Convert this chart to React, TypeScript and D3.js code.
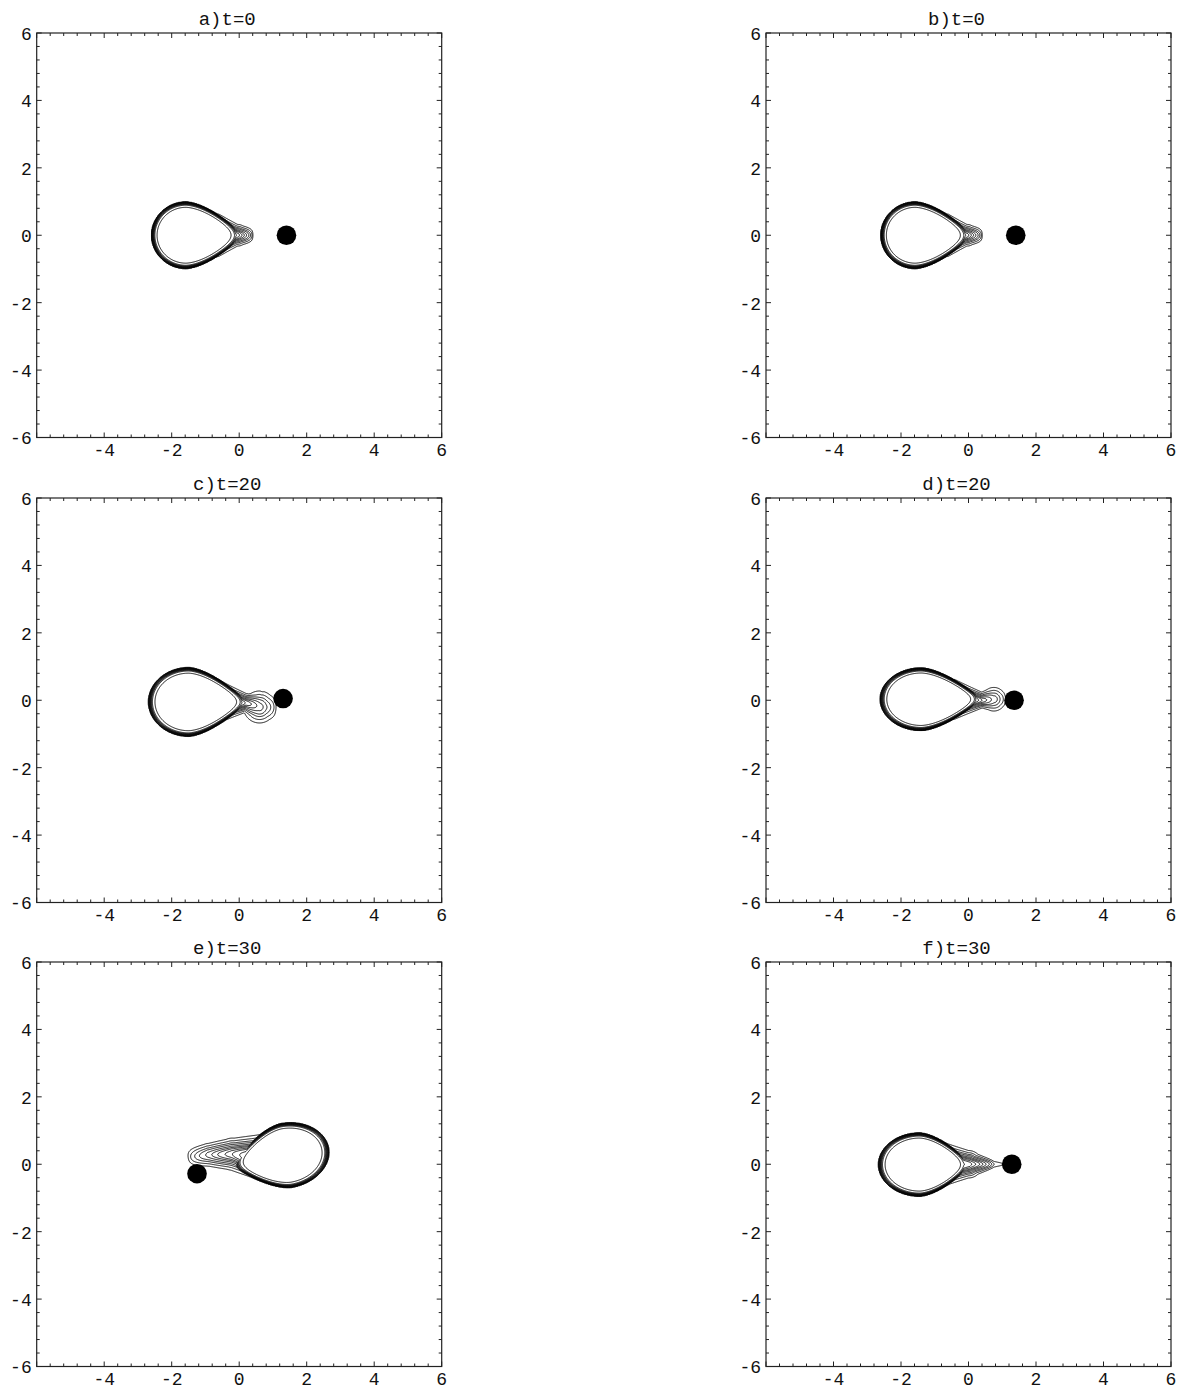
import React, { useEffect, useRef } from 'react';
import * as d3 from 'd3';

// panel titles, in reading order (left/right, top to bottom)
const titles = ['a)t=0', 'b)t=0', 'c)t=20', 'd)t=20', 'e)t=30', 'f)t=30'];

// companion position (the black dot)
const companion = [[1.4, 0], [1.4, 0], [1.3, 0.05], [1.35, 0], [-1.25, -0.28], [1.28, 0]];

// primary star: centre, [back, front, half height, taper], axis angle (deg)
const bodyCenter = [[-1.58, 0], [-1.58, 0], [-1.5, -0.05], [-1.4, 0.03], [1.4, 0.26], [-1.45, -0.01]];
const bodyShape = [
  [1.02, 1.6, 0.99, 0.5],
  [1.02, 1.6, 0.99, 0.5],
  [1.19, 1.7, 1.02, 0.6],
  [1.22, 1.75, 0.93, 0.6],
  [1.27, 1.55, 0.96, 0.5],
  [1.22, 1.45, 0.94, 0.5],
];
const bodyAngle = [0, 0, 0, 0, 190, 0];

// tidal stream: spine points [x, y, width, level]
const tails = [
  [[-0.6, 0, 0.3, 0.3], [-0.05, 0, 0.17, 0.14], [0.42, 0, 0.13, 0]],
  [[-0.6, 0, 0.3, 0.3], [-0.05, 0, 0.17, 0.14], [0.42, 0, 0.13, 0]],
  [[-0.5, -0.05, 0.28, 0.3], [0.2, -0.08, 0.15, 0.12], [0.6, -0.2, 0.28, 0.07], [1.12, -0.22, 0.24, 0]],
  [[-0.4, 0.02, 0.28, 0.3], [0.4, 0, 0.13, 0.1], [0.75, 0.03, 0.22, 0.05], [1.12, 0.04, 0.2, 0]],
  [[0.6, 0.22, 0.32, 0.3], [-0.2, 0.3, 0.25, 0.15], [-0.9, 0.28, 0.2, 0.07], [-1.55, 0.2, 0.18, 0]],
  [[-0.8, 0, 0.32, 0.3], [0, 0, 0.21, 0.17], [0.75, 0, 0.08, 0.012], [1.2, 0, 0.03, 0]],
];

// contour levels
const levels = [0.004, 0.012, 0.025, 0.04, 0.06, 0.08, 0.1, 0.125, 0.15, 0.19, 0.3];

const xTickLabels = [-4, -2, 0, 2, 4, 6];
const yTickLabels = [-6, -4, -2, 0, 2, 4, 6];

const W = 1178;
const H = 1391;
const colLeft = [36.7, 766];
const rowTop = [33, 498, 962];
const PW = 405;
const PH = 404.5;
const STEP = 0.02;
const G0 = -4;
const G1 = 4;
const FONT = "'Liberation Mono', 'Courier New', monospace";

function bodyField(i: number, x: number, y: number) {
  const [cx, cy] = bodyCenter[i];
  const [back, front, ay, taper] = bodyShape[i];
  const a = (bodyAngle[i] * Math.PI) / 180;
  const dx = x - cx, dy = y - cy;
  const u = dx * Math.cos(a) + dy * Math.sin(a);
  const v = -dx * Math.sin(a) + dy * Math.cos(a);
  let t, h;
  if (u > 0) {
    t = u / front;
    h = ay * (1 - taper * Math.pow(Math.min(1, t), 1.5));
  } else {
    t = u / back;
    h = ay;
  }
  return 1 - (t * t + (v / h) * (v / h));
}

function tailField(i: number, x: number, y: number) {
  const pts = tails[i];
  let best = 0;
  for (let k = 0; k < pts.length - 1; k++) {
    const [x0, y0, w0, a0] = pts[k];
    const [x1, y1, w1, a1] = pts[k + 1];
    const ex = x1 - x0, ey = y1 - y0;
    const len2 = ex * ex + ey * ey;
    let s = ((x - x0) * ex + (y - y0) * ey) / len2;
    s = Math.max(0, Math.min(1, s));
    const px = x0 + s * ex, py = y0 + s * ey;
    const d2 = (x - px) * (x - px) + (y - py) * (y - py);
    const w = w0 + s * (w1 - w0);
    const amp = a0 + s * (a1 - a0);
    const val = amp * Math.exp(-d2 / (w * w));
    if (val > best) best = val;
  }
  return best;
}

function field(i: number, x: number, y: number) {
  const fb = bodyField(i, x, y);
  const ft = tailField(i, x, y);
  const e = 0.006;
  return 0.5 * (fb + ft + Math.sqrt((fb - ft) * (fb - ft) + e * e));
}

export default function App() {
  const ref = useRef<SVGSVGElement>(null);

  useEffect(() => {
    const svg = d3.select(ref.current);
    svg.selectAll('*').remove();
    const n = Math.round((G1 - G0) / STEP) + 1;

    titles.forEach((title, i) => {
      const left = colLeft[i % 2];
      const top = rowTop[Math.floor(i / 2)];
      const sx = d3.scaleLinear().domain([-6, 6]).range([left, left + PW]);
      const sy = d3.scaleLinear().domain([-6, 6]).range([top + PH, top]);
      const g = svg.append('g');

      // density field on a grid, then contours
      const values: number[] = new Array(n * n);
      for (let j = 0; j < n; j++) {
        const y = G0 + j * STEP;
        for (let k = 0; k < n; k++) {
          values[j * n + k] = field(i, G0 + k * STEP, y);
        }
      }
      const cs = d3.contours().size([n, n]).thresholds(levels)(values);
      const proj = d3.geoTransform({
        point(px: number, py: number) {
          this.stream.point(sx(G0 + (px - 0.5) * STEP), sy(G0 + (py - 0.5) * STEP));
        },
      });
      const path = d3.geoPath(proj);
      g.selectAll('path.contour')
        .data(cs)
        .join('path')
        .attr('class', 'contour')
        .attr('d', (d: any) => path(d))
        .attr('fill', 'none')
        .attr('stroke', '#000')
        .attr('stroke-width', 0.9);

      // companion
      g.append('circle')
        .attr('cx', sx(companion[i][0]))
        .attr('cy', sy(companion[i][1]))
        .attr('r', 9.8)
        .attr('fill', '#000');

      // frame
      g.append('rect')
        .attr('x', left)
        .attr('y', top)
        .attr('width', PW)
        .attr('height', PH)
        .attr('fill', 'none')
        .attr('stroke', '#222')
        .attr('stroke-width', 1.2);

      // ticks on all four sides, pointing in
      const minor = d3.range(-6, 6.001, 0.4);
      const major = d3.range(-6, 6.001, 2);
      const tickLines: [number, number, number, number][] = [];
      minor.forEach((v) => {
        const isMajor = major.some((m) => Math.abs(m - v) < 1e-6);
        const len = isMajor ? 5 : 3;
        tickLines.push([sx(v), top + PH, sx(v), top + PH - len]);
        tickLines.push([sx(v), top, sx(v), top + len]);
        tickLines.push([left, sy(v), left + len, sy(v)]);
        tickLines.push([left + PW, sy(v), left + PW - len, sy(v)]);
      });
      g.selectAll('line.tick')
        .data(tickLines)
        .join('line')
        .attr('class', 'tick')
        .attr('x1', (d) => d[0])
        .attr('y1', (d) => d[1])
        .attr('x2', (d) => d[2])
        .attr('y2', (d) => d[3])
        .attr('stroke', '#222')
        .attr('stroke-width', 1);

      g.selectAll('text.xl')
        .data(xTickLabels)
        .join('text')
        .attr('class', 'xl')
        .attr('x', (d) => sx(d))
        .attr('y', top + PH + 18)
        .attr('text-anchor', 'middle')
        .attr('font-family', FONT)
        .attr('font-size', 18)
        .attr('fill', '#111')
        .text((d) => String(d));

      g.selectAll('text.yl')
        .data(yTickLabels)
        .join('text')
        .attr('class', 'yl')
        .attr('x', left - 5)
        .attr('y', (d) => sy(d))
        .attr('dy', '0.38em')
        .attr('text-anchor', 'end')
        .attr('font-family', FONT)
        .attr('font-size', 18)
        .attr('fill', '#111')
        .text((d) => String(d));

      g.append('text')
        .attr('x', left + PW / 2 - 12)
        .attr('y', top - 8)
        .attr('text-anchor', 'middle')
        .attr('font-family', FONT)
        .attr('font-size', 19)
        .attr('fill', '#111')
        .text(title);
    });
  }, []);

  return (
    <svg
      ref={ref}
      width={W}
      height={H}
      style={{ position: 'absolute', left: 0, top: 0, background: '#fff' }}
    />
  );
}
